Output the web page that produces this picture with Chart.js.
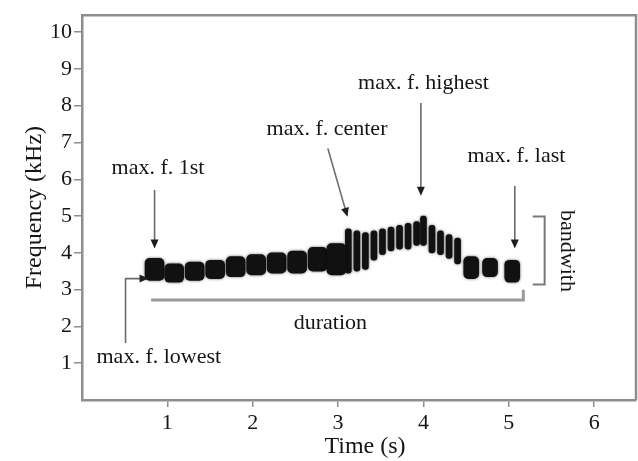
<!DOCTYPE html>
<html>
<head>
<meta charset="utf-8">
<script src="https://cdn.jsdelivr.net/npm/chart.js@4.4.1/dist/chart.umd.min.js"></script>
<style>
  html, body { margin: 0; padding: 0; background: #fff; }
</style>
</head>
<body>
<canvas id="spec" width="638" height="461"></canvas>
<script>
// ---- Syllable bands (time in s, freq in kHz) ----
// first part: wide blobs
const blobTime = [0.85, 1.08, 1.32, 1.56, 1.80, 2.04, 2.28, 2.52, 2.76, 2.98];
const blobLow  = [3.25, 3.20, 3.25, 3.30, 3.35, 3.40, 3.45, 3.45, 3.50, 3.40];
const blobHigh = [3.85, 3.70, 3.75, 3.80, 3.90, 3.95, 4.00, 4.05, 4.15, 4.25];

// middle part: thin streaks (rise to the maximum)
const streakTime = [3.12, 3.22, 3.32, 3.42, 3.52, 3.62, 3.72, 3.82, 3.92, 4.00, 4.10, 4.20, 4.30, 4.40];
const streakLow  = [3.45, 3.50, 3.55, 3.80, 3.95, 4.05, 4.10, 4.10, 4.20, 4.20, 4.00, 3.95, 3.85, 3.70];
const streakHigh = [4.65, 4.60, 4.55, 4.60, 4.65, 4.70, 4.75, 4.80, 4.85, 5.00, 4.75, 4.60, 4.50, 4.40];

// last part: blobs after the drop
const tailTime = [4.56, 4.78, 5.04];
const tailLow  = [3.30, 3.35, 3.20];
const tailHigh = [3.90, 3.85, 3.80];

// axis ticks
const timeTicks = [1, 2, 3, 4, 5, 6];
const freqTicks = [1, 2, 3, 4, 5, 6, 7, 8, 9, 10];

// ---- Annotations (data units) ----
const arrows = [
  { pts: [[0.85, 5.71], [0.85, 4.12]] },                 // max. f. 1st
  { pts: [[0.51, 1.55], [0.51, 3.30], [0.78, 3.30]] },   // max. f. lowest
  { pts: [[2.88, 6.84], [3.11, 4.98]] },                 // max. f. center
  { pts: [[3.97, 8.07], [3.97, 5.55]] },                 // max. f. highest
  { pts: [[5.07, 5.82], [5.07, 4.12]] }                  // max. f. last
];
const labels = [
  { text: 'max. f. 1st',     x: 0.89, y: 6.30 },
  { text: 'max. f. lowest',  x: 0.90, y: 1.15 },
  { text: 'max. f. center',  x: 2.87, y: 7.37 },
  { text: 'max. f. highest', x: 4.00, y: 8.60 },
  { text: 'max. f. last',    x: 5.09, y: 6.62 },
  { text: 'duration',        x: 2.91, y: 2.09 }
];
const durationLine = [[0.81, 2.72], [5.17, 2.72], [5.17, 3.00]];
const bandBracket  = [[5.28, 4.99], [5.42, 4.99], [5.42, 3.14], [5.28, 3.14]];
const bandLabel    = { text: 'bandwith', x: 5.68, y: 4.05 };

const SERIF = '"Liberation Serif", "Times New Roman", serif';

const toBars = (t, lo, hi) => t.map((x, i) => ({ x, y: [lo[i], hi[i]] }));

// ---- Plugin: soft edges on the bands ----
const softBands = {
  id: 'softBands',
  beforeDatasetsDraw(chart) {
    const ctx = chart.ctx;
    ctx.save();
    ctx.shadowColor = 'rgba(0,0,0,0.6)';
    ctx.shadowBlur = 3;
  },
  afterDatasetsDraw(chart) {
    chart.ctx.restore();
  }
};

// ---- Plugin: frame, arrows, texts ----
const annotate = {
  id: 'annotate',
  afterDatasetsDraw(chart) {
    const { ctx, chartArea: a, scales: { x, y } } = chart;
    const px = p => [x.getPixelForValue(p[0]), y.getPixelForValue(p[1])];
    ctx.save();

    // top + right frame
    ctx.strokeStyle = '#8e8e8e';
    ctx.lineWidth = 2.5;
    ctx.beginPath();
    ctx.moveTo(a.left, a.top);
    ctx.lineTo(a.right, a.top);
    ctx.lineTo(a.right, a.bottom);
    ctx.stroke();

    const poly = (pts, color, w) => {
      ctx.strokeStyle = color;
      ctx.lineWidth = w;
      ctx.beginPath();
      pts.map(px).forEach(([u, v], i) => i ? ctx.lineTo(u, v) : ctx.moveTo(u, v));
      ctx.stroke();
    };

    // arrows
    arrows.forEach(ar => {
      const pp = ar.pts.map(px);
      const [x1, y1] = pp[pp.length - 2];
      const [x2, y2] = pp[pp.length - 1];
      const ang = Math.atan2(y2 - y1, x2 - x1);
      const L = 9, W = 4;
      ctx.strokeStyle = '#6a6a6a';
      ctx.lineWidth = 1.6;
      ctx.beginPath();
      pp.forEach(([u, v], i) => {
        if (i === pp.length - 1) { u -= Math.cos(ang) * L * 0.6; v -= Math.sin(ang) * L * 0.6; }
        i ? ctx.lineTo(u, v) : ctx.moveTo(u, v);
      });
      ctx.stroke();
      ctx.fillStyle = '#1e1e1e';
      ctx.beginPath();
      ctx.moveTo(x2, y2);
      ctx.lineTo(x2 - L * Math.cos(ang) + W * Math.sin(ang), y2 - L * Math.sin(ang) - W * Math.cos(ang));
      ctx.lineTo(x2 - L * Math.cos(ang) - W * Math.sin(ang), y2 - L * Math.sin(ang) + W * Math.cos(ang));
      ctx.closePath();
      ctx.fill();
    });

    // duration + bandwidth brackets
    poly(durationLine, '#9a9a9a', 3);
    poly(bandBracket, '#7a7a7a', 2);

    // texts
    ctx.fillStyle = '#151515';
    ctx.font = '22px ' + SERIF;
    ctx.textAlign = 'center';
    ctx.textBaseline = 'middle';
    labels.forEach(l => {
      const [u, v] = px([l.x, l.y]);
      ctx.fillText(l.text, u, v);
    });
    const [bu, bv] = px([bandLabel.x, bandLabel.y]);
    ctx.translate(bu, bv);
    ctx.rotate(Math.PI / 2);
    ctx.fillText(bandLabel.text, 0, 0);

    ctx.restore();
  }
};

const barStyle = {
  backgroundColor: '#111',
  borderWidth: 0,
  borderRadius: 5,
  borderSkipped: false,
  grouped: false
};

new Chart(document.getElementById('spec'), {
  type: 'bar',
  data: {
    datasets: [
      { label: 'blobs',   data: toBars(blobTime, blobLow, blobHigh),       barThickness: 19, ...barStyle },
      { label: 'streaks', data: toBars(streakTime, streakLow, streakHigh), barThickness: 6,  ...barStyle },
      { label: 'tail',    data: toBars(tailTime, tailLow, tailHigh),       barThickness: 15, ...barStyle }
    ]
  },
  options: {
    responsive: false,
    animation: false,
    layout: { padding: { top: 10, right: 2, left: 0, bottom: 0 } },
    plugins: {
      legend: { display: false },
      tooltip: { enabled: false }
    },
    scales: {
      x: {
        type: 'linear',
        offset: false,
        min: 0,
        max: 6.49,
        afterFit: s => { s.height = 61; },
        afterBuildTicks: s => { s.ticks = timeTicks.map(v => ({ value: v })); },
        grid: { display: true, offset: false, drawOnChartArea: false, drawTicks: true, tickLength: 7, color: '#8e8e8e', lineWidth: 1.5 },
        border: { display: true, color: '#8e8e8e', width: 2.5 },
        ticks: { color: '#151515', padding: 3, font: { family: SERIF, size: 22 }, maxRotation: 0, autoSkip: false },
        title: { display: true, text: '\u2002Time (s)', color: '#151515', font: { family: SERIF, size: 24 }, padding: { top: 0, bottom: 0 } }
      },
      y: {
        min: 0,
        max: 10.46,
        afterFit: s => { s.width = 82; },
        afterBuildTicks: s => { s.ticks = freqTicks.map(v => ({ value: v })); },
        grid: { display: true, offset: false, drawOnChartArea: false, drawTicks: true, tickLength: 8, color: '#8e8e8e', lineWidth: 1.5 },
        border: { display: true, color: '#8e8e8e', width: 2.5 },
        ticks: { color: '#151515', padding: 2, font: { family: SERIF, size: 22 }, autoSkip: false },
        title: { display: true, text: 'Frequency (kHz)', color: '#151515', font: { family: SERIF, size: 24 }, padding: { top: 20, bottom: 0 } }
      }
    }
  },
  plugins: [softBands, annotate]
});
</script>
</body>
</html>
